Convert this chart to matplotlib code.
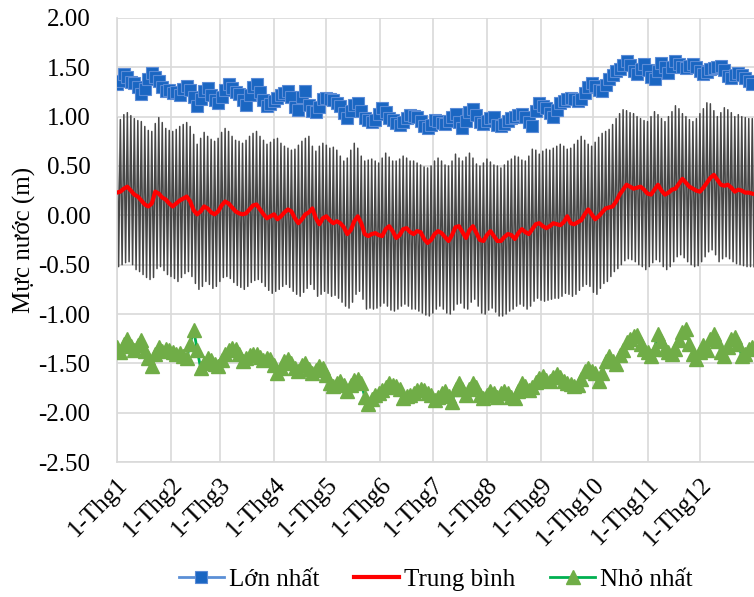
import numpy as np
import matplotlib
matplotlib.use("Agg")
import matplotlib.pyplot as plt
from matplotlib.ticker import FormatStrFormatter

plt.rcParams['font.family'] = ['Liberation Serif', 'DejaVu Serif']

# month starts (day of year) and labels
month_start = [0, 31, 59, 90, 120, 151, 181, 212, 243, 273, 304, 334]
month_labels = ['1-Thg1', '1-Thg2', '1-Thg3', '1-Thg4', '1-Thg5', '1-Thg6',
                '1-Thg7', '1-Thg8', '1-Thg9', '1-Thg10', '1-Thg11', '1-Thg12']

# values every 2 days (m)
max_level = [
    1.33, 1.36, 1.43, 1.40, 1.35, 1.34, 1.30, 1.23, 1.28, 1.38,
    1.44, 1.40, 1.36, 1.30, 1.26, 1.27, 1.24, 1.25, 1.22, 1.28,
    1.31, 1.27, 1.20, 1.11, 1.18, 1.26, 1.29, 1.22, 1.17, 1.14,
    1.20, 1.27, 1.33, 1.29, 1.25, 1.23, 1.17, 1.12, 1.22, 1.30,
    1.33, 1.25, 1.17, 1.11, 1.13, 1.16, 1.19, 1.22, 1.24, 1.26,
    1.20, 1.10, 1.07, 1.20, 1.26, 1.12, 1.06, 1.05, 1.10, 1.18,
    1.19, 1.18, 1.17, 1.14, 1.11, 1.04, 0.99, 1.06, 1.12, 1.14,
    1.06, 0.99, 0.97, 0.95, 0.97, 1.03, 1.09, 1.05, 0.99, 0.97,
    0.94, 0.92, 0.95, 0.99, 1.02, 1.01, 1.00, 0.96, 0.90, 0.88,
    0.92, 0.97, 0.96, 0.94, 0.93, 0.96, 1.00, 1.03, 0.95, 0.88,
    0.96, 1.05, 1.08, 1.02, 0.95, 0.93, 0.96, 0.99, 1.00, 0.92,
    0.90, 0.93, 0.96, 0.99, 1.00, 1.02, 1.03, 1.00, 0.95, 0.90,
    1.06, 1.14, 1.11, 1.09, 1.04, 1.00, 1.07, 1.14, 1.16, 1.18,
    1.19, 1.18, 1.16, 1.18, 1.24, 1.30, 1.34, 1.31, 1.27, 1.26,
    1.32, 1.38, 1.42, 1.46, 1.48, 1.52, 1.56, 1.52, 1.46, 1.43,
    1.48, 1.53, 1.47, 1.40, 1.38, 1.46, 1.54, 1.50, 1.44, 1.50,
    1.56, 1.53, 1.50, 1.49, 1.51, 1.53, 1.50, 1.46, 1.43, 1.45,
    1.48, 1.49, 1.50, 1.51, 1.47, 1.41, 1.39, 1.42, 1.44, 1.42,
    1.39, 1.36, 1.33,
]

mean_level = [
    0.23, 0.24, 0.27, 0.29, 0.25, 0.21, 0.19, 0.15, 0.11, 0.09,
    0.12, 0.24, 0.22, 0.18, 0.16, 0.12, 0.09, 0.12, 0.15, 0.17,
    0.19, 0.14, 0.05, 0.01, 0.04, 0.09, 0.07, 0.03, 0.01, 0.04,
    0.10, 0.14, 0.12, 0.08, 0.04, 0.02, 0.01, 0.02, 0.06, 0.10,
    0.11, 0.06, 0.01, -0.03, -0.01, 0.01, -0.04, -0.01, 0.03, 0.06,
    0.04, -0.03, -0.08, -0.04, 0.01, 0.03, 0.07, -0.03, -0.09, -0.03,
    -0.01, -0.05, -0.08, -0.06, -0.08, -0.12, -0.19, -0.15, -0.06, -0.01,
    -0.08, -0.19, -0.21, -0.19, -0.18, -0.20, -0.21, -0.14, -0.11, -0.16,
    -0.23, -0.20, -0.14, -0.13, -0.17, -0.19, -0.16, -0.17, -0.24, -0.28,
    -0.25, -0.19, -0.16, -0.18, -0.22, -0.26, -0.20, -0.12, -0.11, -0.17,
    -0.23, -0.15, -0.11, -0.18, -0.25, -0.26, -0.20, -0.16, -0.21, -0.26,
    -0.26, -0.22, -0.19, -0.20, -0.24, -0.18, -0.14, -0.17, -0.19, -0.14,
    -0.09, -0.08, -0.11, -0.13, -0.11, -0.08, -0.09, -0.10, -0.07, -0.01,
    -0.08, -0.09, -0.07, -0.05, 0.01, 0.06, 0.01, -0.04, -0.01, 0.03,
    0.07, 0.08, 0.09, 0.14, 0.21, 0.26, 0.31, 0.29, 0.27, 0.28,
    0.29, 0.26, 0.22, 0.21, 0.26, 0.31, 0.25, 0.21, 0.23, 0.26,
    0.27, 0.32, 0.37, 0.33, 0.29, 0.27, 0.25, 0.24, 0.28, 0.33,
    0.38, 0.41, 0.36, 0.31, 0.30, 0.31, 0.28, 0.24, 0.26, 0.25,
    0.23, 0.23, 0.22,
]

min_level = [
    -1.33, -1.38, -1.30, -1.25, -1.32, -1.36, -1.31, -1.26, -1.37, -1.45,
    -1.53, -1.40, -1.33, -1.37, -1.35, -1.36, -1.38, -1.41, -1.39, -1.43,
    -1.45, -1.30, -1.16, -1.36, -1.55, -1.50, -1.45, -1.47, -1.51, -1.53,
    -1.47, -1.40, -1.36, -1.34, -1.35, -1.40, -1.48, -1.45, -1.42, -1.41,
    -1.41, -1.44, -1.47, -1.45, -1.46, -1.52, -1.60, -1.55, -1.48, -1.46,
    -1.50, -1.55, -1.58, -1.52, -1.50, -1.56, -1.60, -1.57, -1.53, -1.55,
    -1.62, -1.70, -1.73, -1.70, -1.68, -1.72, -1.78, -1.72, -1.67, -1.66,
    -1.70, -1.84, -1.91, -1.86, -1.82, -1.80, -1.77, -1.74, -1.70, -1.72,
    -1.73, -1.76, -1.85, -1.83, -1.82, -1.80, -1.77, -1.76, -1.77, -1.80,
    -1.82, -1.87, -1.84, -1.80, -1.78, -1.83, -1.89, -1.76, -1.70, -1.76,
    -1.82, -1.76, -1.70, -1.74, -1.82, -1.85, -1.82, -1.78, -1.80, -1.84,
    -1.80, -1.78, -1.80, -1.84, -1.85, -1.78, -1.70, -1.73, -1.77, -1.74,
    -1.69, -1.65, -1.63, -1.67, -1.68, -1.64, -1.61, -1.64, -1.68, -1.70,
    -1.71, -1.73, -1.72, -1.66, -1.58, -1.55, -1.58, -1.60, -1.68, -1.60,
    -1.48, -1.43, -1.48, -1.51, -1.42, -1.36, -1.28, -1.25, -1.22, -1.21,
    -1.30, -1.35, -1.38, -1.43, -1.35, -1.20, -1.27, -1.35, -1.38, -1.41,
    -1.35, -1.26, -1.18, -1.15, -1.30, -1.40, -1.46, -1.38, -1.31, -1.36,
    -1.25, -1.20, -1.27, -1.38, -1.43, -1.33, -1.25, -1.23, -1.30, -1.43,
    -1.40, -1.35, -1.33,
]

# hourly tide drawn as high/low swing (grey band)
tide_high = [
    0.99, 0.97, 1.02, 1.04, 1.01, 0.98, 0.96, 0.95, 0.90, 0.86,
    0.85, 0.93, 0.99, 0.94, 0.88, 0.86, 0.85, 0.87, 0.90, 0.92,
    0.94, 0.90, 0.82, 0.72, 0.78, 0.84, 0.80, 0.77, 0.75, 0.78,
    0.84, 0.88, 0.85, 0.80, 0.76, 0.75, 0.73, 0.76, 0.80, 0.83,
    0.85, 0.80, 0.76, 0.72, 0.74, 0.77, 0.78, 0.73, 0.70, 0.68,
    0.66, 0.67, 0.71, 0.75, 0.78, 0.80, 0.70, 0.65, 0.70, 0.73,
    0.71, 0.68, 0.69, 0.66, 0.60, 0.55, 0.58, 0.66, 0.73, 0.68,
    0.60, 0.55, 0.56, 0.57, 0.55, 0.53, 0.58, 0.63, 0.59, 0.55,
    0.55, 0.57, 0.60, 0.58, 0.55, 0.55, 0.53, 0.51, 0.49, 0.48,
    0.50, 0.55, 0.58, 0.55, 0.51, 0.50, 0.55, 0.62, 0.58, 0.55,
    0.59, 0.63, 0.58, 0.52, 0.50, 0.53, 0.57, 0.54, 0.51, 0.50,
    0.48, 0.51, 0.55, 0.57, 0.60, 0.59, 0.56, 0.55, 0.60, 0.67,
    0.66, 0.62, 0.65, 0.67, 0.66, 0.68, 0.70, 0.72, 0.70, 0.67,
    0.68, 0.72, 0.76, 0.80, 0.76, 0.72, 0.70, 0.74, 0.79, 0.83,
    0.85, 0.87, 0.92, 0.98, 1.03, 1.07, 1.06, 1.04, 1.03, 1.00,
    0.98, 0.96, 0.95, 1.00, 1.05, 1.02, 0.98, 0.95, 1.00, 1.05,
    1.11, 1.08, 1.03, 1.00, 0.97, 0.95, 0.98, 1.03, 1.08, 1.14,
    1.13, 1.06, 1.00, 1.04, 1.09, 1.07, 1.04, 1.00, 1.02, 1.00,
    0.99, 0.98, 0.98,
]

tide_low = [
    -0.52, -0.50, -0.48, -0.47, -0.50, -0.55, -0.57, -0.60, -0.63, -0.65,
    -0.63, -0.54, -0.52, -0.56, -0.60, -0.62, -0.64, -0.67, -0.63, -0.59,
    -0.57, -0.62, -0.69, -0.75, -0.72, -0.67, -0.70, -0.74, -0.72, -0.67,
    -0.63, -0.62, -0.64, -0.68, -0.71, -0.73, -0.75, -0.72, -0.68, -0.66,
    -0.65, -0.68, -0.72, -0.76, -0.79, -0.77, -0.75, -0.72, -0.70, -0.73,
    -0.77, -0.80, -0.82, -0.78, -0.74, -0.70, -0.75, -0.82, -0.80, -0.77,
    -0.79, -0.82, -0.81, -0.84, -0.88, -0.92, -0.94, -0.88, -0.80, -0.77,
    -0.85, -0.95, -0.94, -0.95, -0.94, -0.92, -0.89, -0.92, -0.96, -0.97,
    -0.95, -0.92, -0.90, -0.92, -0.95, -0.95, -0.97, -0.99, -1.01, -1.02,
    -0.99, -0.95, -0.92, -0.95, -0.99, -1.00, -0.96, -0.90, -0.89, -0.94,
    -0.95, -0.88, -0.85, -0.92, -0.99, -1.00, -0.96, -0.94, -0.98, -1.02,
    -1.02, -1.00, -0.97, -0.95, -0.92, -0.90, -0.92, -0.95, -0.92, -0.87,
    -0.84, -0.86, -0.87, -0.86, -0.85, -0.84, -0.84, -0.82, -0.79, -0.80,
    -0.82, -0.80, -0.76, -0.72, -0.70, -0.72, -0.78, -0.80, -0.74, -0.69,
    -0.67, -0.62, -0.57, -0.54, -0.50, -0.46, -0.44, -0.45, -0.47, -0.50,
    -0.52, -0.55, -0.52, -0.48, -0.45, -0.47, -0.52, -0.55, -0.52, -0.47,
    -0.42, -0.40, -0.43, -0.47, -0.50, -0.52, -0.51, -0.47, -0.42, -0.37,
    -0.35, -0.40, -0.47, -0.44, -0.42, -0.44, -0.47, -0.49, -0.50, -0.51,
    -0.52, -0.52, -0.52,
]

days = np.arange(0, 365, 2)

# zigzag: high on one day, low on the next
tide_x = np.column_stack([days, days + 1]).ravel()
tide_y = np.column_stack([tide_high, tide_low]).ravel()

fig = plt.figure(figsize=(7.54, 5.97), dpi=100)
ax = fig.add_axes([0.155, 0.226, 0.845, 0.744])

ax.plot(tide_x, tide_y, color='#474747', lw=1.1, zorder=2)
ax.plot(days, max_level, color='#5b8fd6', lw=2, marker='s', ms=8,
        mfc='#1a66c2', mec='#5b8bd6', mew=0.8, zorder=3, label='Lớn nhất')
ax.plot(days, mean_level, color='#ff0000', lw=3, zorder=4, label='Trung bình')
ax.plot(days, min_level, color='#00b050', lw=2, marker='^', ms=9.5,
        mfc='#70ad47', mec='#70ad47', zorder=3, label='Nhỏ nhất')

ax.set_xlim(0, 365)
ax.set_ylim(-2.5, 2.0)
ax.set_yticks(np.arange(-2.5, 2.01, 0.5))
ax.yaxis.set_major_formatter(FormatStrFormatter('%.2f'))
ax.set_xticks(month_start)
ax.set_xticklabels(month_labels, rotation=45, ha='right', rotation_mode='anchor')
ax.tick_params(length=0, labelsize=18)
ax.tick_params(axis='y', pad=19)
ax.tick_params(axis='x', pad=8)
ax.grid(color='#d9d9d9', lw=1.2)
ax.set_axisbelow(True)
for side in ['top', 'right']:
    ax.spines[side].set_visible(False)
for side in ['left', 'bottom']:
    ax.spines[side].set_color('#d9d9d9')
    ax.spines[side].set_linewidth(1.2)

ax.set_ylabel('Mực nước (m)', fontsize=18, labelpad=2)

fig.legend(loc='center', bbox_to_anchor=(0.578, 0.029), ncol=3, frameon=False,
           fontsize=18, handlelength=1.8, handletextpad=0.2, columnspacing=1.4)

fig.savefig('out.png', dpi=100)
